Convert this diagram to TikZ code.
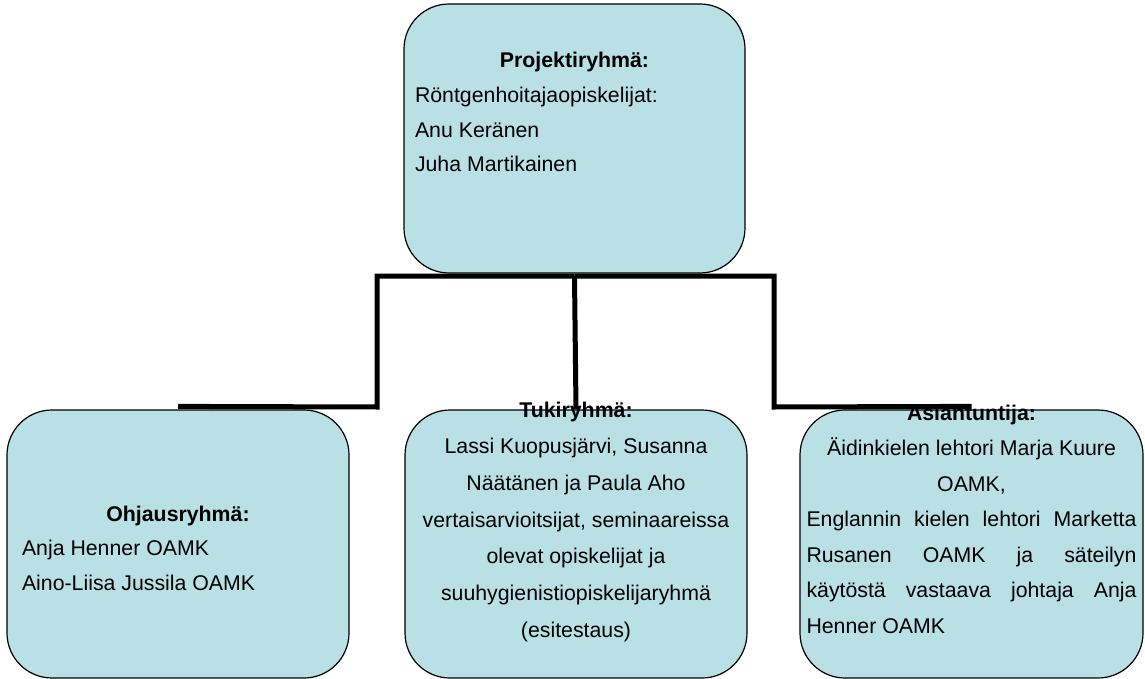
\documentclass[tikz,border=0pt]{standalone}
\usepackage{fontspec}
\setmainfont{Liberation Sans}
\usepackage{tikz}
\usetikzlibrary{calc}
\definecolor{boxfill}{RGB}{185,224,228}
% text block of one group box: height, width, baselineskip, first baseline, lines
\newcommand{\grouptext}[5]{%
  \parbox[c][#1][t]{#2}{\fontsize{21.3}{#3}\selectfont
    \vspace*{\dimexpr#4-20pt\relax}\rule{0pt}{20pt}#5}}

\begin{document}
\begin{tikzpicture}[
			x=1pt, y=-1pt,
			group/.style={draw, line width=1.2pt, fill=boxfill, rounded corners=45pt,
				inner sep=0pt, minimum height=268pt},
			conn/.style={draw, line width=5pt, line join=miter},
			]
			\useasboundingbox (0,0) rectangle (1145,679);
			\node [group, minimum width=341pt, minimum height=269pt] (proj) at (574.5,138.5)
				{\grouptext{269pt}{319pt}{34.6}{64pt}{\makebox[\linewidth]{\textbf{Projektiryhmä:}}\\
				Röntgenhoitajaopiskelijat:\\ Anu Keränen\\ Juha Martikainen}};
			\node [group, minimum width=342pt] (ohjaus) at (178,544)
				{\grouptext{268pt}{312pt}{34.6}{111pt}{\makebox[\linewidth]{\textbf{Ohjausryhmä:}}\\
				Anja Henner OAMK\\ Aino-Liisa Jussila OAMK}};
			\node [group, minimum width=342pt] (tuki) at (576,544)
				{\grouptext{268pt}{330pt}{36.7}{7pt}{\centering\textbf{Tukiryhmä:}\\
				Lassi Kuopusjärvi, Susanna\\ Näätänen ja Paula Aho\\
				vertaisarvioitsijat, seminaareissa\\ olevat opiskelijat ja\\
				suuhygienistiopiskelijaryhmä\\ (esitestaus)}};
			\node [group, minimum width=343pt] (asiant) at (971.5,544)
				{\grouptext{268pt}{330pt}{35.5}{10pt}{\makebox[\linewidth]{\textbf{Asiantuntija:}}\\
				\makebox[\linewidth]{Äidinkielen lehtori Marja Kuure}\\
				\makebox[\linewidth]{OAMK,}\\
				\makebox[\linewidth][s]{Englannin kielen lehtori Marketta}\\
				\makebox[\linewidth][s]{Rusanen OAMK ja säteilyn}\\
				\makebox[\linewidth][s]{käytöstä vastaava johtaja Anja}\\
				Henner OAMK}};
			% bends of the organisation lines
			\coordinate (bendl) at (377,407);
			\coordinate (bendr) at (774,407);
			\path [conn] ([yshift=-2.5pt]proj.south) -| (bendl) -- ([yshift=3pt]ohjaus.north);
			\path [conn] ([yshift=-2.5pt]proj.south) -| (bendr) -- ([yshift=3pt]asiant.north);
			\path [conn] ([yshift=-2.5pt]proj.south) -- (tuki.north);
		\end{tikzpicture}
\end{document}
